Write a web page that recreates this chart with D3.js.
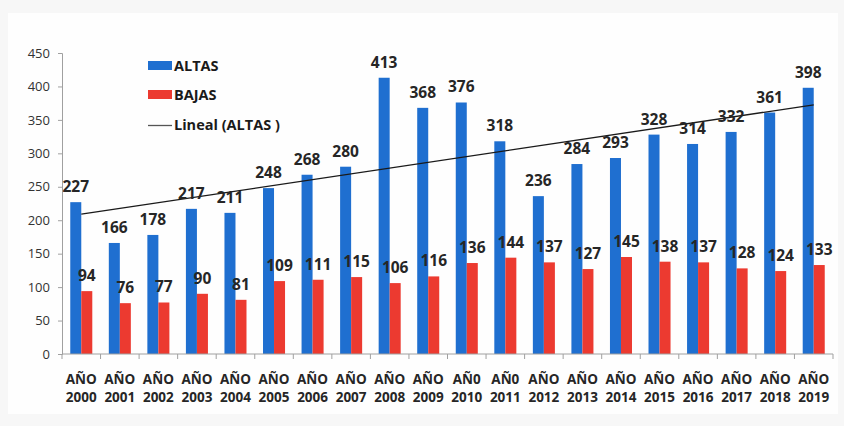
<!DOCTYPE html>
<html><head><meta charset="utf-8">
<script src="https://cdn.jsdelivr.net/npm/d3@7"></script>
<style>
html,body{margin:0;padding:0;background:#f7f7f7;}
svg{display:block;}
text{font-family:"Open Sans",sans-serif;}
</style></head>
<body>
<svg id="chart" width="844" height="426"></svg>
<script>
const categories = ["AÑO 2000","AÑO 2001","AÑO 2002","AÑO 2003","AÑO 2004","AÑO 2005","AÑO 2006","AÑO 2007","AÑO 2008","AÑO 2009","AÑ0 2010","AÑ0 2011","AÑO 2012","AÑO 2013","AÑO 2014","AÑO 2015","AÑO 2016","AÑO 2017","AÑO 2018","AÑO 2019"];
const altas = [227,166,178,217,211,248,268,280,413,368,376,318,236,284,293,328,314,332,361,398];
const bajas = [94,76,77,90,81,109,111,115,106,116,136,144,137,127,145,138,137,128,124,133];
const seriesNames = ["ALTAS","BAJAS"];
const yTicks = [0,50,100,150,200,250,300,350,400,450];
const colors = {ALTAS:"#1f6fd0", BAJAS:"#ec3a30"};

(function(){
const svg = d3.select("#chart");
svg.append("rect").attr("x",8).attr("y",13).attr("width",830).attr("height",401).attr("fill","#fefefe");

const mL = 62, mR = 833, mT = 53, mB = 354;
const x = d3.scaleBand().domain(categories).range([mL, mR]).paddingInner(0).paddingOuter(0);
const x1 = d3.scaleBand().domain(seriesNames).range([0, x.bandwidth()]).paddingInner(0).paddingOuter(0.75);
const y = d3.scaleLinear().domain([0,450]).range([mB, mT]);

// y axis
const yAxis = svg.append("g").attr("transform",`translate(${mL},0)`)
  .call(d3.axisLeft(y).tickValues(yTicks).tickSize(4).tickPadding(8));
yAxis.select(".domain").attr("stroke","#a0a0a0");
yAxis.selectAll(".tick line").attr("stroke","#a0a0a0");
yAxis.selectAll(".tick text").attr("font-size","13px").attr("fill","#333").attr("font-family","Open Sans, sans-serif");

// bars
const data = categories.map((c,i)=>({c, ALTAS:altas[i], BAJAS:bajas[i]}));
const groups = svg.append("g").selectAll("g").data(data).join("g")
  .attr("transform", d=>`translate(${x(d.c)},0)`);
groups.selectAll("rect").data(d=>seriesNames.map(k=>({k, v:d[k]}))).join("rect")
  .attr("x", d=>x1(d.k)).attr("width", x1.bandwidth())
  .attr("y", d=>y(d.v)).attr("height", d=>mB - y(d.v))
  .attr("fill", d=>colors[d.k]);

// x axis
svg.append("line").attr("x1",mL).attr("x2",mR).attr("y1",mB).attr("y2",mB).attr("stroke","#a0a0a0");
const bounds = categories.map(c=>x(c)).concat([mR]);
svg.append("g").selectAll("line").data(bounds).join("line")
  .attr("x1",d=>d).attr("x2",d=>d).attr("y1",mB).attr("y2",mB+5).attr("stroke","#a0a0a0");
const xl = svg.append("g").selectAll("text").data(categories).join("text")
  .attr("x", d=>x(d)+x.bandwidth()/2).attr("text-anchor","middle")
  .attr("font-size","13.5px").attr("font-weight","bold").attr("fill","#262626");
xl.append("tspan").attr("x", d=>x(d)+x.bandwidth()/2).attr("y",384).text(d=>d.split(" ")[0]);
xl.append("tspan").attr("x", d=>x(d)+x.bandwidth()/2).attr("y",402).text(d=>d.split(" ")[1]);

// trendline (linear regression of ALTAS)
const n = altas.length;
const xm = d3.mean(d3.range(n)), ym = d3.mean(altas);
const slope = d3.sum(d3.range(n), i=>(i-xm)*(altas[i]-ym)) / d3.sum(d3.range(n), i=>(i-xm)*(i-xm));
const icpt = ym - slope*xm;
svg.append("line")
  .attr("x1", x(categories[0])+x.bandwidth()/2).attr("y1", y(icpt))
  .attr("x2", x(categories[n-1])+x.bandwidth()/2).attr("y2", y(icpt+slope*(n-1)))
  .attr("stroke","#1a1a1a").attr("stroke-width",1.3);

// data labels
const lab = svg.append("g");
data.forEach(d=>{
  seriesNames.forEach(k=>{
    lab.append("text")
      .attr("x", x(d.c)+x1(k)+x1.bandwidth()/2)
      .attr("y", y(d[k]) - 10)
      .attr("text-anchor","middle").attr("font-size","15.5px").attr("font-weight","bold").attr("fill","#262626")
      .text(d[k]);
  });
});

// legend
const lg = svg.append("g");
lg.append("rect").attr("x",148).attr("y",61).attr("width",24).attr("height",9).attr("fill",colors.ALTAS);
lg.append("text").attr("x",174).attr("y",71).attr("font-size","14.5px").attr("font-weight","bold").attr("fill","#1a1a1a").text("ALTAS");
lg.append("rect").attr("x",148).attr("y",90).attr("width",24).attr("height",9).attr("fill",colors.BAJAS);
lg.append("text").attr("x",174).attr("y",100).attr("font-size","14.5px").attr("font-weight","bold").attr("fill","#1a1a1a").text("BAJAS");
lg.append("line").attr("x1",148).attr("x2",172).attr("y1",125.5).attr("y2",125.5).attr("stroke","#555").attr("stroke-width",1.3);
lg.append("text").attr("x",174).attr("y",130).attr("font-size","14.5px").attr("font-weight","bold").attr("fill","#1a1a1a").text("Lineal (ALTAS )");
})();
</script>
</body></html>
